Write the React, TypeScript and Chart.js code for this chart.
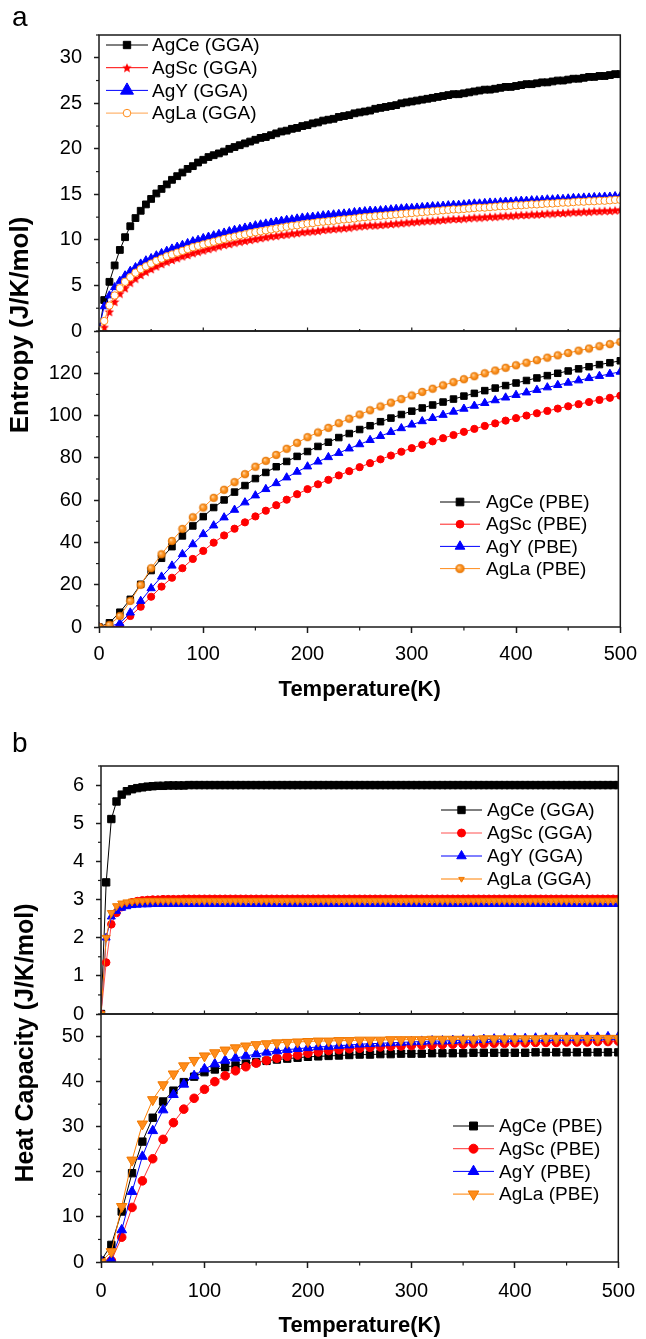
import React, { useEffect, useRef } from 'react';
import { Chart, registerables } from 'chart.js';
import { drawPoint } from 'chart.js/helpers';

Chart.register(...registerables);

const FONT = '"Liberation Sans", Arial, Helvetica, sans-serif';

// ---------- data ----------
const tempFine = [
  0, 5, 10, 15, 20, 25, 30, 35, 40, 45,
  50, 55, 60, 65, 70, 75, 80, 85, 90, 95,
  100, 105, 110, 115, 120, 125, 130, 135, 140, 145,
  150, 155, 160, 165, 170, 175, 180, 185, 190, 195,
  200, 205, 210, 215, 220, 225, 230, 235, 240, 245,
  250, 255, 260, 265, 270, 275, 280, 285, 290, 295,
  300, 305, 310, 315, 320, 325, 330, 335, 340, 345,
  350, 355, 360, 365, 370, 375, 380, 385, 390, 395,
  400, 405, 410, 415, 420, 425, 430, 435, 440, 445,
  450, 455, 460, 465, 470, 475, 480, 485, 490, 495,
  500,
];

const tempCoarse = [
  0, 10, 20, 30, 40, 50, 60, 70, 80, 90,
  100, 110, 120, 130, 140, 150, 160, 170, 180, 190,
  200, 210, 220, 230, 240, 250, 260, 270, 280, 290,
  300, 310, 320, 330, 340, 350, 360, 370, 380, 390,
  400, 410, 420, 430, 440, 450, 460, 470, 480, 490,
  500,
];

// Entropy, GGA
const entAgCeGGA = [
  0, 3.4, 5.4, 7.2, 8.9, 10.3, 11.5, 12.4, 13.2, 13.9,
  14.5, 15.1, 15.6, 16.1, 16.6, 17.0, 17.4, 17.8, 18.1, 18.5,
  18.8, 19.1, 19.3, 19.5, 19.7, 20.0, 20.2, 20.4, 20.6, 20.8,
  21.0, 21.2, 21.3, 21.5, 21.7, 21.9, 22.0, 22.2, 22.3, 22.5,
  22.6, 22.8, 22.9, 23.1, 23.2, 23.3, 23.5, 23.6, 23.7, 23.9,
  24.0, 24.1, 24.2, 24.4, 24.5, 24.6, 24.7, 24.8, 25.0, 25.1,
  25.2, 25.3, 25.4, 25.5, 25.6, 25.7, 25.8, 25.9, 26.0, 26.0,
  26.1, 26.2, 26.3, 26.4, 26.5, 26.5, 26.6, 26.7, 26.8, 26.8,
  26.9, 27.0, 27.1, 27.1, 27.2, 27.3, 27.3, 27.4, 27.5, 27.5,
  27.6, 27.7, 27.7, 27.8, 27.9, 27.9, 28.0, 28.0, 28.1, 28.2,
  28.2,
];
const entAgScGGA = [
  0, 0.4, 2.1, 3.2, 4.1, 4.7, 5.3, 5.75, 6.15, 6.5,
  6.8, 7.1, 7.35, 7.6, 7.8, 8.0, 8.2, 8.35, 8.55, 8.7,
  8.85, 9.0, 9.15, 9.3, 9.45, 9.55, 9.7, 9.8, 9.9, 10.0,
  10.1, 10.2, 10.3, 10.4, 10.45, 10.55, 10.6, 10.7, 10.75, 10.85,
  10.9, 10.95, 11.0, 11.1, 11.15, 11.2, 11.25, 11.3, 11.35, 11.45,
  11.5, 11.55, 11.6, 11.6, 11.65, 11.7, 11.75, 11.8, 11.85, 11.9,
  11.95, 12.0, 12.05, 12.1, 12.1, 12.15, 12.2, 12.25, 12.3, 12.3,
  12.35, 12.4, 12.45, 12.45, 12.5, 12.55, 12.55, 12.6, 12.65, 12.65,
  12.7, 12.75, 12.75, 12.8, 12.8, 12.85, 12.9, 12.9, 12.95, 12.95,
  13.0, 13.05, 13.05, 13.1, 13.1, 13.15, 13.15, 13.2, 13.2, 13.25,
  13.3,
];
const entAgYGGA = [
  0.3, 2.7, 3.9, 4.8, 5.5, 6.1, 6.6, 7.0, 7.4, 7.75,
  8.0, 8.3, 8.55, 8.8, 9.05, 9.25, 9.45, 9.65, 9.85, 10.0,
  10.2, 10.35, 10.5, 10.65, 10.8, 10.95, 11.1, 11.2, 11.35, 11.45,
  11.6, 11.7, 11.8, 11.9, 12.0, 12.1, 12.2, 12.25, 12.35, 12.45,
  12.5, 12.55, 12.6, 12.7, 12.75, 12.8, 12.85, 12.9, 12.95, 13.05,
  13.1, 13.15, 13.2, 13.2, 13.25, 13.3, 13.35, 13.4, 13.45, 13.5,
  13.5, 13.55, 13.6, 13.65, 13.7, 13.7, 13.75, 13.8, 13.85, 13.85,
  13.9, 13.95, 14.0, 14.0, 14.05, 14.1, 14.1, 14.15, 14.2, 14.2,
  14.25, 14.3, 14.3, 14.35, 14.35, 14.4, 14.45, 14.45, 14.5, 14.5,
  14.55, 14.6, 14.6, 14.65, 14.65, 14.7, 14.7, 14.75, 14.75, 14.8,
  14.8,
];
const entAgLaGGA = [
  0.1, 1.1, 2.8, 3.9, 4.7, 5.4, 5.9, 6.4, 6.8, 7.1,
  7.4, 7.7, 7.95, 8.2, 8.4, 8.6, 8.8, 9.0, 9.2, 9.35,
  9.5, 9.65, 9.8, 9.95, 10.1, 10.25, 10.35, 10.5, 10.6, 10.75,
  10.85, 10.95, 11.05, 11.15, 11.25, 11.35, 11.45, 11.55, 11.6, 11.7,
  11.8, 11.85, 11.95, 12.0, 12.05, 12.1, 12.2, 12.25, 12.3, 12.35,
  12.45, 12.5, 12.55, 12.6, 12.65, 12.7, 12.75, 12.8, 12.85, 12.9,
  12.95, 13.0, 13.05, 13.1, 13.15, 13.2, 13.25, 13.3, 13.35, 13.35,
  13.4, 13.45, 13.5, 13.55, 13.55, 13.6, 13.65, 13.7, 13.7, 13.75,
  13.8, 13.8, 13.85, 13.9, 13.9, 13.95, 14.0, 14.0, 14.05, 14.1,
  14.1, 14.15, 14.2, 14.2, 14.25, 14.25, 14.3, 14.3, 14.35, 14.4,
  14.4,
];

// Entropy, PBE
const entAgCePBE = [
  0, 2.0, 7.0, 13.1, 20.2, 26.7, 32.5, 38.0, 43.1, 47.8,
  52.2, 56.5, 60.1, 63.8, 66.9, 70.2, 73.1, 75.8, 78.3, 80.7,
  83.0, 85.4, 87.4, 89.6, 91.5, 93.4, 95.2, 97.1, 98.8, 100.5,
  102.1, 103.6, 105.0, 106.4, 107.8, 109.2, 110.5, 111.8, 113.0, 114.2,
  115.4, 116.6, 117.8, 118.9, 120.0, 121.1, 122.1, 123.1, 124.1, 125.0,
  125.9,
];
const entAgScPBE = [
  0, 0, 0.5, 5.2, 9.6, 14.3, 19.1, 23.3, 27.8, 32.2,
  36.0, 39.9, 43.3, 46.5, 49.5, 52.3, 55.0, 57.6, 60.2, 62.8,
  65.2, 67.5, 69.6, 71.7, 73.7, 75.6, 77.5, 79.3, 81.1, 82.9,
  84.6, 86.2, 87.8, 89.3, 90.8, 92.3, 93.7, 95.1, 96.3, 97.6,
  98.8, 100.0, 101.1, 102.2, 103.3, 104.4, 105.4, 106.4, 107.4, 108.4,
  109.4,
];
const entAgYPBE = [
  0, 0.3, 1.7, 6.8, 12.3, 18.3, 23.8, 29.0, 34.4, 39.1,
  43.9, 48.0, 51.8, 55.4, 58.9, 62.2, 65.2, 68.0, 70.7, 73.4,
  75.9, 78.2, 80.3, 82.3, 84.4, 86.4, 88.4, 90.3, 92.2, 94.0,
  95.7, 97.3, 98.8, 100.3, 101.8, 103.2, 104.6, 105.9, 107.2, 108.5,
  109.7, 110.9, 112.1, 113.3, 114.4, 115.5, 116.6, 117.7, 118.7, 119.7,
  120.7,
];
const entAgLaPBE = [
  0, 1.0, 5.2, 12.3, 19.9, 27.8, 34.4, 40.7, 46.4, 51.9,
  56.5, 61.1, 64.9, 68.5, 72.3, 75.8, 78.6, 81.4, 84.3, 87.1,
  89.8, 92.0, 94.2, 96.4, 98.5, 100.5, 102.5, 104.3, 106.1, 107.8,
  109.5, 111.2, 112.7, 114.3, 115.8, 117.2, 118.6, 120.0, 121.3, 122.6,
  123.8, 125.0, 126.2, 127.4, 128.5, 129.6, 130.7, 131.7, 132.8, 133.8,
  134.8,
];

// Heat capacity, GGA
const cvAgCeGGA = [
  0, 3.45, 5.11, 5.57, 5.75, 5.84, 5.89, 5.92, 5.94, 5.96,
  5.97, 5.98, 5.98, 5.99, 5.99, 5.99, 5.99, 6.0, 6.0, 6.0,
  6.0, 6.0, 6.0, 6.0, 6.0, 6.0, 6.0, 6.0, 6.0, 6.0,
  6.0, 6.0, 6.0, 6.0, 6.0, 6.0, 6.0, 6.0, 6.0, 6.0,
  6.0, 6.0, 6.0, 6.0, 6.0, 6.0, 6.0, 6.0, 6.0, 6.0,
  6.0, 6.0, 6.0, 6.0, 6.0, 6.0, 6.0, 6.0, 6.0, 6.0,
  6.0, 6.0, 6.0, 6.0, 6.0, 6.0, 6.0, 6.0, 6.0, 6.0,
  6.0, 6.0, 6.0, 6.0, 6.0, 6.0, 6.0, 6.0, 6.0, 6.0,
  6.0, 6.0, 6.0, 6.0, 6.0, 6.0, 6.0, 6.0, 6.0, 6.0,
  6.0, 6.0, 6.0, 6.0, 6.0, 6.0, 6.0, 6.0, 6.0, 6.0,
  6.0,
];
const cvAgScGGA = [
  0, 1.35, 2.35, 2.65, 2.8, 2.88, 2.93, 2.96, 2.98, 2.99,
  3.0, 3.0, 3.01, 3.01, 3.01, 3.01, 3.02, 3.02, 3.02, 3.02,
  3.02, 3.02, 3.02, 3.02, 3.02, 3.02, 3.02, 3.02, 3.02, 3.02,
  3.02, 3.02, 3.02, 3.02, 3.02, 3.02, 3.02, 3.02, 3.02, 3.02,
  3.02, 3.02, 3.02, 3.02, 3.02, 3.02, 3.02, 3.02, 3.02, 3.02,
  3.02, 3.02, 3.02, 3.02, 3.02, 3.02, 3.02, 3.02, 3.02, 3.02,
  3.02, 3.02, 3.02, 3.02, 3.02, 3.02, 3.02, 3.02, 3.02, 3.02,
  3.02, 3.02, 3.02, 3.02, 3.02, 3.02, 3.02, 3.02, 3.02, 3.02,
  3.02, 3.02, 3.02, 3.02, 3.02, 3.02, 3.02, 3.02, 3.02, 3.02,
  3.02, 3.02, 3.02, 3.02, 3.02, 3.02, 3.02, 3.02, 3.02, 3.02,
  3.02,
];
const cvAgYGGA = [
  0, 2.0, 2.55, 2.7, 2.78, 2.82, 2.85, 2.86, 2.87, 2.87,
  2.88, 2.88, 2.88, 2.88, 2.88, 2.88, 2.88, 2.88, 2.88, 2.88,
  2.88, 2.88, 2.88, 2.88, 2.88, 2.88, 2.88, 2.88, 2.88, 2.88,
  2.88, 2.88, 2.88, 2.88, 2.88, 2.88, 2.88, 2.88, 2.88, 2.88,
  2.88, 2.88, 2.88, 2.88, 2.88, 2.88, 2.88, 2.88, 2.88, 2.88,
  2.88, 2.88, 2.88, 2.88, 2.88, 2.88, 2.88, 2.88, 2.88, 2.88,
  2.88, 2.88, 2.88, 2.88, 2.88, 2.88, 2.88, 2.88, 2.88, 2.88,
  2.88, 2.88, 2.88, 2.88, 2.88, 2.88, 2.88, 2.88, 2.88, 2.88,
  2.88, 2.88, 2.88, 2.88, 2.88, 2.88, 2.88, 2.88, 2.88, 2.88,
  2.88, 2.88, 2.88, 2.88, 2.88, 2.88, 2.88, 2.88, 2.88, 2.88,
  2.88,
];
const cvAgLaGGA = [
  0, 2.0, 2.65, 2.83, 2.9, 2.93, 2.95, 2.96, 2.96, 2.97,
  2.97, 2.97, 2.97, 2.97, 2.97, 2.97, 2.97, 2.97, 2.97, 2.97,
  2.97, 2.97, 2.97, 2.97, 2.97, 2.97, 2.97, 2.97, 2.97, 2.97,
  2.97, 2.97, 2.97, 2.97, 2.97, 2.97, 2.97, 2.97, 2.97, 2.97,
  2.97, 2.97, 2.97, 2.97, 2.97, 2.97, 2.97, 2.97, 2.97, 2.97,
  2.97, 2.97, 2.97, 2.97, 2.97, 2.97, 2.97, 2.97, 2.97, 2.97,
  2.97, 2.97, 2.97, 2.97, 2.97, 2.97, 2.97, 2.97, 2.97, 2.97,
  2.97, 2.97, 2.97, 2.97, 2.97, 2.97, 2.97, 2.97, 2.97, 2.97,
  2.97, 2.97, 2.97, 2.97, 2.97, 2.97, 2.97, 2.97, 2.97, 2.97,
  2.97, 2.97, 2.97, 2.97, 2.97, 2.97, 2.97, 2.97, 2.97, 2.97,
  2.97,
];

// Heat capacity, PBE
const cvAgCePBE = [
  0.3, 3.8, 11.2, 19.7, 26.7, 32.0, 35.6, 38.0, 39.9, 41.1,
  42.1, 42.7, 43.2, 43.6, 44.0, 44.3, 44.6, 44.9, 45.1, 45.3,
  45.5, 45.6, 45.7, 45.8, 45.9, 46.0, 46.0, 46.1, 46.1, 46.2,
  46.2, 46.2, 46.3, 46.3, 46.3, 46.3, 46.4, 46.4, 46.4, 46.4,
  46.4, 46.4, 46.5, 46.5, 46.5, 46.5, 46.5, 46.5, 46.5, 46.5,
  46.5,
];
const cvAgScPBE = [
  0, 0.3, 5.5, 12.1, 18.0, 22.9, 27.2, 30.9, 33.9, 36.3,
  38.3, 40.0, 41.3, 42.4, 43.3, 44.1, 44.7, 45.2, 45.6, 45.9,
  46.3, 46.6, 46.9, 47.1, 47.3, 47.4, 47.6, 47.7, 47.8, 47.9,
  48.0, 48.1, 48.1, 48.2, 48.3, 48.3, 48.4, 48.4, 48.5, 48.5,
  48.6, 48.6, 48.7, 48.7, 48.7, 48.8, 48.8, 48.8, 48.9, 48.9,
  49.0,
];
const cvAgYPBE = [
  0.3, 0.5, 7.1, 15.6, 23.4, 29.1, 33.7, 37.1, 39.4, 41.3,
  42.8, 43.9, 44.7, 45.2, 45.7, 46.1, 46.5, 46.8, 47.1, 47.3,
  47.5, 47.7, 47.8, 48.0, 48.1, 48.3, 48.4, 48.5, 48.6, 48.7,
  48.8, 48.9, 49.0, 49.0, 49.1, 49.2, 49.2, 49.3, 49.4, 49.4,
  49.5, 49.5, 49.6, 49.6, 49.7, 49.7, 49.7, 49.8, 49.8, 49.9,
  49.9,
];
const cvAgLaPBE = [
  0, 2.3, 12.3, 22.6, 30.6, 36.0, 39.3, 41.7, 43.5, 44.7,
  45.7, 46.4, 47.0, 47.5, 47.9, 48.2, 48.4, 48.6, 48.7, 48.8,
  48.9, 49.0, 49.0, 49.1, 49.1, 49.2, 49.2, 49.2, 49.3, 49.3,
  49.3, 49.3, 49.4, 49.4, 49.4, 49.4, 49.4, 49.5, 49.5, 49.5,
  49.5, 49.5, 49.5, 49.6, 49.6, 49.6, 49.6, 49.6, 49.6, 49.6,
  49.6,
];

// ---------- helpers ----------
const INK = '#1a1a1a';

function starImage(d: number, color: string) {
  const c = document.createElement('canvas');
  c.width = d;
  c.height = d;
  const g = c.getContext('2d')!;
  const R = d / 2;
  const r = R * 0.45;
  const cx = d / 2;
  const cy = d / 2 + R * 0.08;
  g.beginPath();
  for (let i = 0; i < 10; i++) {
    const ang = -Math.PI / 2 + (i * Math.PI) / 5;
    const rad = i % 2 === 0 ? R : r;
    g.lineTo(cx + rad * Math.cos(ang), cy + rad * Math.sin(ang));
  }
  g.closePath();
  g.fillStyle = color;
  g.fill();
  return c;
}

function sphereImage(r: number) {
  const d = Math.ceil(2 * r + 2);
  const c = document.createElement('canvas');
  c.width = d;
  c.height = d;
  const g = c.getContext('2d')!;
  const cx = d / 2;
  const cy = d / 2;
  const grad = g.createRadialGradient(cx - r * 0.35, cy - r * 0.35, 0, cx, cy, r);
  grad.addColorStop(0, '#ffe4bf');
  grad.addColorStop(0.45, '#ff9d33');
  grad.addColorStop(1, '#f07a00');
  g.beginPath();
  g.arc(cx, cy, r, 0, Math.PI * 2);
  g.fillStyle = grad;
  g.fill();
  g.lineWidth = 0.8;
  g.strokeStyle = '#e07000';
  g.stroke();
  return c;
}

function pts(xs: number[], ys: number[]) {
  return xs.map((x, i) => ({ x, y: ys[i] }));
}

type Marker = {
  style: any;
  radius: number;
  fill: string;
  stroke: string;
  bw?: number;
  rot?: number;
};

function series(label: string, xs: number[], ys: number[], yAxisID: string, line: string, m: Marker, order: number) {
  return {
    label,
    data: pts(xs, ys),
    yAxisID,
    xAxisID: 'x',
    borderColor: line,
    backgroundColor: m.fill,
    borderWidth: 1,
    pointStyle: m.style,
    pointRadius: m.radius,
    pointRotation: m.rot ?? 0,
    pointBackgroundColor: m.fill,
    pointBorderColor: m.stroke,
    pointBorderWidth: m.bw ?? 1,
    pointHoverRadius: m.radius,
    tension: 0,
    fill: false,
    order,
  };
}

const tickColor = (c: any) => (c.tick && c.tick.label !== '' ? INK : 'rgba(0,0,0,0)');

function xAxis(height: number, pad: number) {
  return {
    type: 'linear',
    position: 'bottom',
    min: 0,
    max: 500,
    afterFit: (s: any) => {
      s.height = height;
    },
    ticks: {
      stepSize: 50,
      autoSkip: false,
      maxRotation: 0,
      minRotation: 0,
      padding: pad,
      color: '#000',
      font: { family: FONT, size: 20 },
      callback: (v: any) => (Math.abs(v % 100) < 1e-9 ? String(v) : ''),
    },
    grid: { drawOnChartArea: false, drawTicks: true, tickLength: 6, tickWidth: 1.5, tickColor },
    border: { display: false },
  };
}

function yAxis(max: number, step: number, labelStep: number, hideTop: boolean, width: number) {
  return {
    type: 'linear',
    axis: 'y',
    position: 'left',
    stack: 'panel',
    stackWeight: 1,
    min: 0,
    max,
    afterFit: (s: any) => {
      s.width = width;
    },
    ticks: {
      stepSize: step,
      autoSkip: false,
      padding: 12,
      color: '#000',
      font: { family: FONT, size: 20 },
      callback: (v: any) => {
        const q = v / labelStep;
        const isMajor = Math.abs(q - Math.round(q)) < 1e-6;
        if (!isMajor) return '';
        if (hideTop && Math.abs(v - max) < 1e-6) return '';
        return String(v);
      },
    },
    grid: { drawOnChartArea: false, drawTicks: true, tickLength: 5, tickWidth: 1.5, tickColor },
    border: { display: false },
  };
}

type LegendItem = { ds: number; r: number; img?: any };
type LegendCfg = { scale: string; dx: number; dy: number; rowH: number; lineLen: number; gap: number; items: LegendItem[] };
type DecoCfg = {
  letter: string;
  letterY: number;
  yTitle: string;
  yTitleSize: number;
  yTitleX: number;
  yTitleY: number;
  xTitleY: number;
  upper: string;
  lower: string;
  legends: LegendCfg[];
};

function makeDeco(cfg: DecoCfg) {
  return {
    id: 'deco',
    afterDraw(chart: any) {
      const ctx = chart.ctx as CanvasRenderingContext2D;
      const a = chart.chartArea;
      const up = chart.scales[cfg.upper];
      const lo = chart.scales[cfg.lower];
      const xs = chart.scales.x;
      ctx.save();

      // minor ticks (shorter)
      ctx.strokeStyle = INK;
      ctx.lineWidth = 1.2;
      for (const s of [up, lo]) {
        for (const t of s.ticks) {
          if (t.label !== '') continue;
          const py = s.getPixelForValue(t.value);
          ctx.beginPath();
          ctx.moveTo(a.left, py);
          ctx.lineTo(a.left - 3, py);
          ctx.stroke();
        }
      }
      for (const t of xs.ticks) {
        const px = xs.getPixelForValue(t.value);
        if (t.label === '') {
          ctx.beginPath();
          ctx.moveTo(px, a.bottom);
          ctx.lineTo(px, a.bottom + 3.5);
          ctx.stroke();
        }
        // small inner ticks on the shared boundary
        ctx.beginPath();
        ctx.moveTo(px, up.bottom);
        ctx.lineTo(px, up.bottom - (t.label === '' ? 2 : 3.5));
        ctx.stroke();
      }

      // frames
      ctx.lineWidth = 1.5;
      ctx.strokeStyle = INK;
      for (const s of [up, lo]) {
        ctx.strokeRect(a.left, s.top, a.right - a.left, s.bottom - s.top);
      }

      // legends
      for (const lg of cfg.legends) {
        const s = chart.scales[lg.scale];
        lg.items.forEach((it, i) => {
          const ds = chart.data.datasets[it.ds];
          const y = s.top + lg.dy + i * lg.rowH;
          const x0 = a.left + lg.dx;
          ctx.strokeStyle = ds.borderColor;
          ctx.lineWidth = 1;
          ctx.beginPath();
          ctx.moveTo(x0, y);
          ctx.lineTo(x0 + lg.lineLen, y);
          ctx.stroke();
          ctx.fillStyle = ds.pointBackgroundColor;
          ctx.strokeStyle = ds.pointBorderColor;
          ctx.lineWidth = ds.pointBorderWidth;
          drawPoint(
            ctx,
            {
              pointStyle: it.img ?? ds.pointStyle,
              rotation: ds.pointRotation ?? 0,
              radius: it.r,
              borderWidth: ds.pointBorderWidth,
            } as any,
            x0 + lg.lineLen / 2,
            y
          );
          ctx.fillStyle = '#000';
          ctx.font = `19px ${FONT}`;
          ctx.textAlign = 'left';
          ctx.textBaseline = 'middle';
          ctx.fillText(ds.label, x0 + lg.lineLen + lg.gap, y + 1);
        });
      }

      // panel letter
      ctx.fillStyle = '#000';
      ctx.font = `28px ${FONT}`;
      ctx.textAlign = 'left';
      ctx.textBaseline = 'alphabetic';
      ctx.fillText(cfg.letter, 12, cfg.letterY);

      // y title
      ctx.save();
      ctx.translate(cfg.yTitleX, cfg.yTitleY);
      ctx.rotate(-Math.PI / 2);
      ctx.font = `bold ${cfg.yTitleSize}px ${FONT}`;
      ctx.textAlign = 'center';
      ctx.textBaseline = 'middle';
      ctx.fillText(cfg.yTitle, 0, 0);
      ctx.restore();

      // x title
      ctx.font = `bold 22px ${FONT}`;
      ctx.textAlign = 'center';
      ctx.textBaseline = 'middle';
      ctx.fillText('Temperature(K)', (a.left + a.right) / 2, cfg.xTitleY);

      ctx.restore();
    },
  };
}

function baseOptions(padTop: number, padRight: number, scales: any) {
  return {
    responsive: false,
    animation: false,
    events: [],
    layout: { padding: { top: padTop, right: padRight, left: 0, bottom: 0 } },
    plugins: { legend: { display: false }, tooltip: { enabled: false }, title: { display: false } },
    scales,
  };
}

export default function App() {
  const refA = useRef<HTMLCanvasElement>(null);
  const refB = useRef<HTMLCanvasElement>(null);

  useEffect(() => {
    const starPlot = starImage(10, '#ff0000');
    const starLeg = starImage(10, '#ff0000');
    const spherePlot = sphereImage(3.8);
    const sphereLeg = sphereImage(4.1);

    const dsA = [
      series('AgCe (GGA)', tempFine, entAgCeGGA, 'yTop', '#000000', { style: 'rect', radius: 4.8, fill: '#000', stroke: '#000' }, 4),
      series('AgSc (GGA)', tempFine, entAgScGGA, 'yTop', '#ff0000', { style: starPlot, radius: 5, fill: '#ff0000', stroke: '#ff0000' }, 3),
      series('AgY (GGA)', tempFine, entAgYGGA, 'yTop', '#0000ff', { style: 'triangle', radius: 4.7, fill: '#0000ff', stroke: '#0000ff' }, 2),
      series('AgLa (GGA)', tempFine, entAgLaGGA, 'yTop', '#ffa34d', { style: 'circle', radius: 3.7, fill: '#ffffff', stroke: '#ff8c1a' }, 1),
      series('AgCe (PBE)', tempCoarse, entAgCePBE, 'yBot', '#000000', { style: 'rect', radius: 4.6, fill: '#000', stroke: '#000' }, 4),
      series('AgSc (PBE)', tempCoarse, entAgScPBE, 'yBot', '#ff2020', { style: 'circle', radius: 3.6, fill: '#ff0000', stroke: '#ff0000' }, 3),
      series('AgY (PBE)', tempCoarse, entAgYPBE, 'yBot', '#0000ff', { style: 'triangle', radius: 4.8, fill: '#0000ff', stroke: '#0000ff' }, 2),
      series('AgLa (PBE)', tempCoarse, entAgLaPBE, 'yBot', '#ff8c1a', { style: spherePlot, radius: 3.8, fill: '#ff8c1a', stroke: '#ff8c1a' }, 1),
    ];

    const dsB = [
      series('AgCe (GGA)', tempFine, cvAgCeGGA, 'yTop', '#000000', { style: 'rect', radius: 5.2, fill: '#000', stroke: '#000' }, 4),
      series('AgSc (GGA)', tempFine, cvAgScGGA, 'yTop', '#ff5050', { style: 'circle', radius: 3.8, fill: '#ff0000', stroke: '#ff0000' }, 3),
      series('AgY (GGA)', tempFine, cvAgYGGA, 'yTop', '#0000ff', { style: 'triangle', radius: 4.6, fill: '#0000ff', stroke: '#0000ff' }, 2),
      series('AgLa (GGA)', tempFine, cvAgLaGGA, 'yTop', '#ff8000', { style: 'triangle', radius: 4.6, fill: '#ff8c1a', stroke: '#f07800', rot: 180 }, 1),
      series('AgCe (PBE)', tempCoarse, cvAgCePBE, 'yBot', '#000000', { style: 'rect', radius: 5.2, fill: '#000', stroke: '#000' }, 4),
      series('AgSc (PBE)', tempCoarse, cvAgScPBE, 'yBot', '#ff3030', { style: 'circle', radius: 4.3, fill: '#ff0000', stroke: '#ff0000' }, 3),
      series('AgY (PBE)', tempCoarse, cvAgYPBE, 'yBot', '#0000ff', { style: 'triangle', radius: 5.6, fill: '#0000ff', stroke: '#0000ff' }, 2),
      series('AgLa (PBE)', tempCoarse, cvAgLaPBE, 'yBot', '#ff8000', { style: 'triangle', radius: 6, fill: '#ff8c1a', stroke: '#f07800', rot: 180 }, 1),
    ];

    const chartA = new Chart(refA.current as HTMLCanvasElement, {
      type: 'line',
      data: { datasets: dsA as any },
      options: baseOptions(35, 21, {
        x: xAxis(83, 9),
        yBot: yAxis(140, 10, 20, true, 99),
        yTop: yAxis(32.5, 2.5, 5, false, 99),
      }) as any,
      plugins: [
        makeDeco({
          letter: 'a',
          letterY: 26,
          yTitle: 'Entropy (J/K/mol)',
          yTitleSize: 26,
          yTitleX: 21,
          yTitleY: 325,
          xTitleY: 690,
          upper: 'yTop',
          lower: 'yBot',
          legends: [
            { scale: 'yTop', dx: 7, dy: 10, rowH: 22.7, lineLen: 42, gap: 4, items: [{ ds: 0, r: 5.2 }, { ds: 1, r: 5, img: starLeg }, { ds: 2, r: 7.5 }, { ds: 3, r: 3.8 }] },
            { scale: 'yBot', dx: 341, dy: 171, rowH: 22.2, lineLen: 40, gap: 6, items: [{ ds: 4, r: 5.4 }, { ds: 5, r: 3.9 }, { ds: 6, r: 5.6 }, { ds: 7, r: 4.1, img: sphereLeg }] },
          ],
        }) as any,
      ],
    });

    const chartB = new Chart(refB.current as HTMLCanvasElement, {
      type: 'line',
      data: { datasets: dsB as any },
      options: baseOptions(56, 20, {
        x: xAxis(77, 11),
        yBot: yAxis(55, 5, 10, true, 101),
        yTop: yAxis(6.5, 0.5, 1, false, 101),
      }) as any,
      plugins: [
        makeDeco({
          letter: 'b',
          letterY: 42,
          yTitle: 'Heat Capacity (J/K/mol)',
          yTitleSize: 25,
          yTitleX: 26,
          yTitleY: 333,
          xTitleY: 616,
          upper: 'yTop',
          lower: 'yBot',
          legends: [
            { scale: 'yTop', dx: 340, dy: 44, rowH: 23, lineLen: 41, gap: 5, items: [{ ds: 0, r: 5.2 }, { ds: 1, r: 4 }, { ds: 2, r: 5.5 }, { ds: 3, r: 3.2 }] },
            { scale: 'yBot', dx: 352, dy: 112, rowH: 22.7, lineLen: 41, gap: 5, items: [{ ds: 4, r: 5.6 }, { ds: 5, r: 4.5 }, { ds: 6, r: 6.2 }, { ds: 7, r: 6.2 }] },
          ],
        }) as any,
      ],
    });

    return () => {
      chartA.destroy();
      chartB.destroy();
    };
  }, []);

  return (
    <div style={{ position: 'absolute', left: 0, top: 0, width: 646, height: 1339, background: '#ffffff' }}>
      <canvas ref={refA} width={646} height={710} style={{ position: 'absolute', left: 0, top: 0, display: 'block' }} />
      <canvas ref={refB} width={646} height={629} style={{ position: 'absolute', left: 0, top: 710, display: 'block' }} />
    </div>
  );
}
